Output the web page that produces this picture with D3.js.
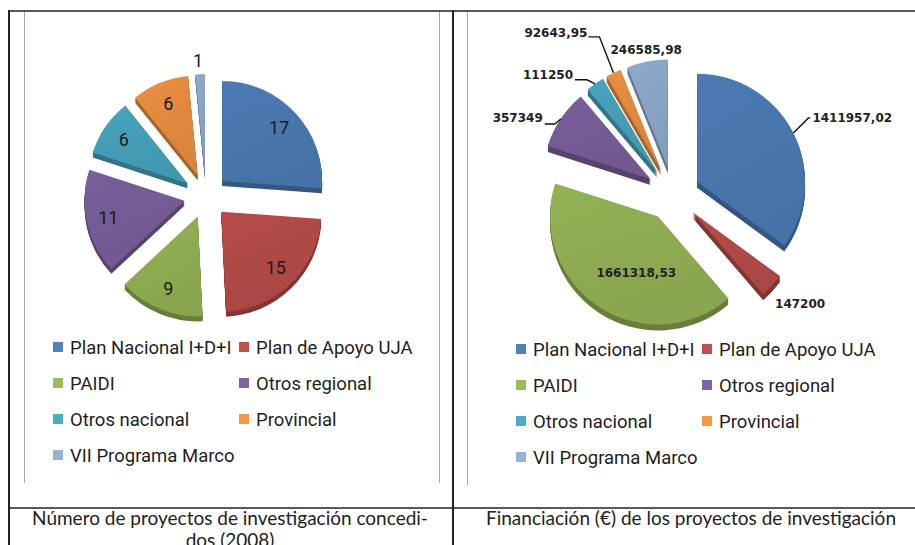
<!DOCTYPE html>
<meta charset="utf-8">
<head>
<title></title>
<script src="https://d3js.org/d3.v7.min.js"></script>
<style>
body { margin: 0; background: #fff; }
svg { display: block; }
.legend text { font-family: Roboto, sans-serif; font-size: 18.5px; fill: #1e1e1e; }
.caption { font-family: Lato, sans-serif; font-size: 19px; fill: #222; }
.countLabel { font-family: Roboto, sans-serif; font-size: 18px; fill: #1a1a1a; }
.fundLabel { font-family: "DejaVu Sans", sans-serif; font-size: 12px; font-weight: bold; fill: #222; }
</style>
</head>
<body>
<div id="chart"></div>
<script>

// data
var categories = ["Plan Nacional I+D+I", "Plan de Apoyo UJA", "PAIDI", "Otros regional",
                  "Otros nacional", "Provincial", "VII Programa Marco"];
var projectCounts = [17, 15, 9, 11, 6, 6, 1];
var funding = [1411957.02, 147200, 1661318.53, 357349, 111250, 92643.95, 246585.98];
var captionLeft = ["Número de proyectos de investigación concedi-", "dos (2008)"];
var captionRight = ["Financiación (€) de los proyectos de investigación"];

// styles
var colors = ["#4f81bd", "#c0504d", "#9bbb59", "#8064a2", "#4bacc6", "#f79646", "#95b3d7"];

var svg = d3.select("#chart").append("svg")
    .attr("width", 915)
    .attr("height", 545);

var defs = svg.append("defs");
colors.forEach(function(c, i) {
  var g = defs.append("linearGradient").attr("id", "face" + i)
      .attr("x1", 0).attr("y1", 0).attr("x2", 0.4).attr("y2", 1);
  g.append("stop").attr("offset", "0%").attr("stop-color", d3.color(c).darker(0.15));
  g.append("stop").attr("offset", "100%").attr("stop-color", d3.color(c).darker(0.35));
});

// table borders and chart frames
var frame = svg.append("g");
frame.append("line").attr("x1", 24.5).attr("x2", 24.5).attr("y1", 11).attr("y2", 483).attr("stroke", "#a8a8a8");
frame.append("line").attr("x1", 439.5).attr("x2", 439.5).attr("y1", 11).attr("y2", 483).attr("stroke", "#a8a8a8");
frame.append("line").attr("x1", 467.5).attr("x2", 467.5).attr("y1", 11).attr("y2", 485).attr("stroke", "#a8a8a8");
frame.append("line").attr("x1", 8).attr("x2", 915).attr("y1", 11).attr("y2", 11).attr("stroke", "#222").attr("stroke-width", 1.6);
frame.append("line").attr("x1", 8).attr("x2", 915).attr("y1", 508).attr("y2", 508).attr("stroke", "#222").attr("stroke-width", 1.6);
frame.append("line").attr("x1", 9).attr("x2", 9).attr("y1", 10).attr("y2", 545).attr("stroke", "#222").attr("stroke-width", 2);
frame.append("line").attr("x1", 453).attr("x2", 453).attr("y1", 10).attr("y2", 545).attr("stroke", "#222").attr("stroke-width", 2);

// exploded pie with a little depth
function drawPie(g, values, opt) {
  var arcs = d3.pie().sort(null).value(function(d) { return d; })(values);
  var arc = d3.arc().innerRadius(0).outerRadius(opt.r);
  arcs.forEach(function(a) {
    a.mid = (a.startAngle + a.endAngle) / 2;
    a.ux = Math.sin(a.mid);
    a.uy = -Math.cos(a.mid);
    a.ox = opt.cx + a.ux * opt.explode;
    a.oy = opt.cy + a.uy * opt.explode;
    // point on the outer rim, middle of the slice
    a.ex = opt.cx + a.ux * (opt.r + opt.explode);
    a.ey = opt.cy + a.uy * (opt.r + opt.explode);
  });

  var sides = g.append("g");
  arcs.forEach(function(a, i) {
    for (var k = opt.depth; k >= 1; k--) {
      sides.append("path")
        .attr("d", arc(a))
        .attr("transform", "translate(" + a.ox + "," + (a.oy + k) + ")")
        .attr("fill", d3.color(colors[i]).darker(1.1));
    }
  });

  g.append("g").selectAll("path")
    .data(arcs)
    .join("path")
      .attr("d", arc)
      .attr("transform", function(a) { return "translate(" + a.ox + "," + a.oy + ")"; })
      .attr("fill", function(a, i) { return "url(#face" + i + ")"; });

  return arcs;
}

function drawLegend(g, cols, y0, rowH) {
  var items = g.append("g").attr("class", "legend")
    .selectAll("g")
    .data(categories)
    .join("g")
      .attr("transform", function(d, i) {
        return "translate(" + cols[i % 2] + "," + (y0 + rowH * Math.floor(i / 2)) + ")";
      });
  items.append("rect")
    .attr("x", 0).attr("y", -5)
    .attr("width", 10).attr("height", 10)
    .attr("fill", function(d, i) { return colors[i]; });
  items.append("text")
    .attr("x", 17)
    .attr("dy", "0.36em")
    .text(function(d) { return d; });
}

// left chart: number of projects
var left = svg.append("g");
var leftPie = {cx: 206, cy: 196, r: 100, explode: 22, depth: 5};
var leftArcs = drawPie(left, projectCounts, leftPie);

left.selectAll(".countLabel")
  .data(leftArcs)
  .join("text")
    .attr("class", "countLabel")
    .attr("text-anchor", "middle")
    .attr("dy", "0.36em")
    .attr("x", function(a) {
      if (a.endAngle - a.startAngle < 0.2) return a.ex - 2;
      return leftPie.cx + a.ux * (leftPie.explode + 0.78 * leftPie.r);
    })
    .attr("y", function(a) {
      if (a.endAngle - a.startAngle < 0.2) return a.ey - 14;
      return leftPie.cy + a.uy * (leftPie.explode + 0.78 * leftPie.r);
    })
    .text(function(a) { return a.data; });

drawLegend(left, [53, 239], 347, 36);

// right chart: funding
var right = svg.append("g");
var rightPie = {cx: 673, cy: 194, r: 108, explode: 27, depth: 6};
var rightArcs = drawPie(right, funding, rightPie);

var es = d3.formatLocale({decimal: ",", thousands: ".", grouping: [3], currency: ["", "€"]});
function fmtEuro(v) { return Number.isInteger(v) ? String(v) : es.format(".2f")(v); }

// label placement relative to the rim point of each slice
var fundLabelLayout = [
  {elbow: [15, -15], run: 2, text: [2, 0], anchor: "start"},
  {offset: [28, 18], anchor: "middle"},
  {inside: 0.6, offset: [14, 2], anchor: "middle"},
  {elbow: [-6, 5], run: -10, text: [-2, -6], anchor: "end"},
  {elbow: [-8, -4], run: -12, text: [-2, -5], anchor: "end"},
  {elbow: [-14, -36], run: -11, text: [-1, -4], anchor: "end"},
  {offset: [-1, -12], anchor: "middle"}
];

rightArcs.forEach(function(a, i) {
  var L = fundLabelLayout[i], tx, ty;
  if (L.elbow) {
    var bx = a.ex + L.elbow[0], by = a.ey + L.elbow[1];
    right.append("polyline")
      .attr("points", [[a.ex, a.ey], [bx, by], [bx + L.run, by]].map(function(p) { return p.join(","); }).join(" "))
      .attr("fill", "none")
      .attr("stroke", "#111")
      .attr("stroke-width", 1.4);
    tx = bx + L.run + L.text[0];
    ty = by + L.text[1];
  } else if (L.inside) {
    tx = rightPie.cx + a.ux * (rightPie.explode + L.inside * rightPie.r) + L.offset[0];
    ty = rightPie.cy + a.uy * (rightPie.explode + L.inside * rightPie.r) + L.offset[1];
  } else {
    tx = a.ex + L.offset[0];
    ty = a.ey + L.offset[1];
  }
  right.append("text")
    .attr("class", "fundLabel")
    .attr("x", tx).attr("y", ty)
    .attr("dy", "0.36em")
    .attr("text-anchor", L.anchor)
    .text(fmtEuro(a.data));
});

drawLegend(right, [516, 702], 349, 36);

// captions under the charts
svg.append("g").selectAll("text")
  .data(captionLeft)
  .join("text")
    .attr("class", "caption")
    .attr("text-anchor", "middle")
    .attr("x", 230)
    .attr("y", function(d, i) { return 525 + i * 22; })
    .text(function(d) { return d; });

svg.append("g").selectAll("text")
  .data(captionRight)
  .join("text")
    .attr("class", "caption")
    .attr("text-anchor", "middle")
    .attr("x", 691)
    .attr("y", 525)
    .text(function(d) { return d; });

</script>
</body>
